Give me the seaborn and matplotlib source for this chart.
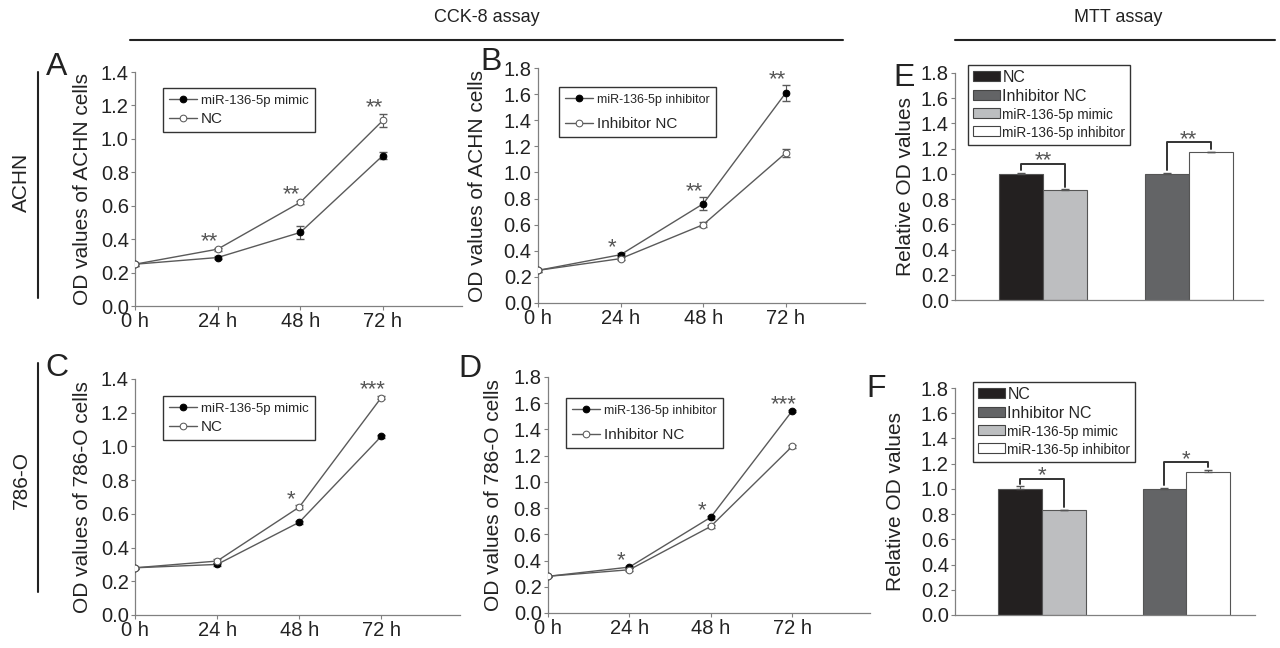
import numpy as np
import pandas as pd
import seaborn as sns
import matplotlib.pyplot as plt
from matplotlib.lines import Line2D
from matplotlib.patches import Patch

# time points of the CCK-8 curves
hours = [0, 24, 48, 72]
time_labels = ["0 h", "24 h", "48 h", "72 h"]

# A - ACHN, mimic vs NC
a_mimic = [0.25, 0.29, 0.44, 0.90]
a_mimic_err = [0.01, 0.01, 0.04, 0.02]
a_nc = [0.25, 0.34, 0.62, 1.11]
a_nc_err = [0.01, 0.01, 0.01, 0.04]
a_stars = ["", "**", "**", "**"]

# B - ACHN, inhibitor vs inhibitor NC
b_inh = [0.25, 0.37, 0.76, 1.61]
b_inh_err = [0.01, 0.01, 0.05, 0.06]
b_nc = [0.25, 0.34, 0.60, 1.15]
b_nc_err = [0.01, 0.01, 0.02, 0.03]
b_stars = ["", "*", "**", "**"]

# C - 786-O, mimic vs NC
c_mimic = [0.28, 0.30, 0.55, 1.06]
c_mimic_err = [0.005, 0.01, 0.01, 0.01]
c_nc = [0.28, 0.32, 0.64, 1.29]
c_nc_err = [0.005, 0.01, 0.01, 0.01]
c_stars = ["", "", "*", "***"]

# D - 786-O, inhibitor vs inhibitor NC
d_inh = [0.28, 0.35, 0.73, 1.54]
d_inh_err = [0.005, 0.01, 0.01, 0.01]
d_nc = [0.28, 0.33, 0.66, 1.27]
d_nc_err = [0.005, 0.01, 0.01, 0.01]
d_stars = ["", "*", "*", "***"]

# MTT assay, relative OD (bar order: NC, mimic, Inhibitor NC, inhibitor)
bar_conditions = ["NC", "miR-136-5p mimic", "Inhibitor NC", "miR-136-5p inhibitor"]
legend_order = ["NC", "Inhibitor NC", "miR-136-5p mimic", "miR-136-5p inhibitor"]
e_values = [1.00, 0.87, 1.00, 1.17]
e_err = [0.01, 0.01, 0.01, 0.005]
e_stars = ["**", "**"]
f_values = [1.00, 0.83, 1.00, 1.13]
f_err = [0.02, 0.005, 0.01, 0.02]
f_stars = ["*", "*"]

bar_colors = {"NC": "#231f20", "Inhibitor NC": "#636466",
              "miR-136-5p mimic": "#bcbec0", "miR-136-5p inhibitor": "#ffffff"}

sns.set_style("ticks")
plt.rcParams["font.family"] = ["Liberation Sans", "DejaVu Sans"]
plt.rcParams["axes.edgecolor"] = "#808080"
plt.rcParams["xtick.color"] = "#808080"
plt.rcParams["ytick.color"] = "#808080"
plt.rcParams["xtick.labelcolor"] = "#222222"
plt.rcParams["ytick.labelcolor"] = "#222222"

W, H = 1280, 648
fig = plt.figure(figsize=(12.8, 6.48), dpi=100)

LINE = "#5a5a5a"
TXT = "#222222"
STAR = "#555555"


def px_axes(left, top, right, bottom):
    return fig.add_axes([left / W, 1 - bottom / H, (right - left) / W, (bottom - top) / H])


def fig_xy(x, y):
    return (x / W, 1 - y / H)


def star(ax, x, y, text):
    # baseline slightly under y so the glyph sits just above it
    ax.annotate(text, xy=(x, y), xytext=(0, -2), textcoords="offset points",
                ha="center", va="baseline", fontsize=16, color=STAR)


def style_axes(ax, ymax, ylabel, pad):
    sns.despine(ax=ax)
    ticks = np.arange(0, ymax + 0.001, 0.2)
    ax.set_ylim(0, ymax)
    ax.set_yticks(ticks)
    ax.set_yticklabels([f"{v:.1f}" for v in ticks])
    ax.tick_params(axis="both", labelsize=14.5, length=3, width=0.8, pad=1.5)
    ax.set_ylabel(ylabel, fontsize=15, color=TXT, labelpad=pad)
    for s in ax.spines.values():
        s.set_linewidth(0.9)


def line_panel(ax, ymax, ylabel, s1, e1, l1, s2, e2, l2, stars, legend_box, sizes, spacing, pad):
    sns.lineplot(x=hours, y=s1, ax=ax, color=LINE, lw=1, marker="o", markersize=4.8,
                 markerfacecolor="black", markeredgecolor="black", label=l1, zorder=3)
    sns.lineplot(x=hours, y=s2, ax=ax, color=LINE, lw=1, marker="o", markersize=4.8,
                 markerfacecolor="white", markeredgecolor=LINE, label=l2, zorder=3)
    ax.errorbar(hours, s1, yerr=e1, fmt="none", ecolor=LINE, elinewidth=0.8, capsize=3, zorder=2)
    ax.errorbar(hours, s2, yerr=e2, fmt="none", ecolor=LINE, elinewidth=0.8, capsize=3, zorder=2)
    for h, a, ea, b, eb, st in zip(hours, s1, e1, s2, e2, stars):
        if st:
            star(ax, h - 2.5, max(a + ea, b + eb) + 0.02, st)
    ax.set_xlim(0, 95)
    ax.set_xticks(hours)
    ax.set_xticklabels(time_labels)
    ax.set_xlabel("")
    style_axes(ax, ymax, ylabel, pad)
    x0, y0 = fig_xy(*legend_box)
    leg = ax.legend(loc="upper left", bbox_to_anchor=(x0, y0), bbox_transform=fig.transFigure,
                    fontsize=10, frameon=True, fancybox=False, framealpha=1,
                    edgecolor="#333333", handlelength=2.0, handletextpad=0.3,
                    borderpad=0.45, labelspacing=spacing, borderaxespad=0)
    leg.get_frame().set_linewidth(1.0)
    for t, fs in zip(leg.get_texts(), sizes):
        t.set_fontsize(fs)


def bar_panel(ax, values, errs, stars, legend_box, xmax, pad):
    # bar slots: two adjacent pairs separated by a gap
    slots = [0, 1, 3.28, 4.27]
    df = pd.DataFrame({"slot": slots, "value": values, "cond": bar_conditions})
    sns.barplot(data=df, x="slot", y="value", hue="cond", hue_order=legend_order,
                palette=bar_colors, native_scale=True, dodge=False, width=1.0,
                errorbar=None, edgecolor="#555555", linewidth=0.8, legend=False, ax=ax)
    ax.errorbar(slots, values, yerr=[np.zeros(4), errs], fmt="none", ecolor="#555555",
                elinewidth=0.8, capsize=3, zorder=3)
    for i, st in enumerate(stars):
        l, r = 2 * i, 2 * i + 1
        top = max(values[l], values[r]) + 0.08
        ax.plot([slots[l], slots[l], slots[r], slots[r]],
                [values[l] + errs[l] + 0.02, top, top, values[r] + errs[r] + 0.02],
                color="#333333", lw=1.4)
        star(ax, (slots[l] + slots[r]) / 2, top, st)
    ax.set_xlim(-1.48, xmax)
    ax.set_xticks([])
    ax.set_xlabel("")
    style_axes(ax, 1.8, "Relative OD values", pad)
    handles = [Patch(facecolor=bar_colors[c], edgecolor="#444444", linewidth=0.8) for c in legend_order]
    x0, y0 = fig_xy(*legend_box)
    leg = ax.legend(handles, legend_order, loc="upper left", bbox_to_anchor=(x0, y0),
                    bbox_transform=fig.transFigure, fontsize=11.5, frameon=True, fancybox=False,
                    framealpha=1, edgecolor="#333333", handlelength=1.7, handleheight=0.55,
                    handletextpad=0.15, borderpad=0.3, labelspacing=0.25, borderaxespad=0)
    leg.get_frame().set_linewidth(1.0)
    for t in leg.get_texts()[2:]:
        t.set_fontsize(9.8)


axA = px_axes(135, 72, 462, 306)
line_panel(axA, 1.4, "OD values of ACHN cells", a_mimic, a_mimic_err, "miR-136-5p mimic",
           a_nc, a_nc_err, "NC", a_stars, (163, 88), (9.5, 11), 0.35, 6)
axB = px_axes(538, 68, 865, 303)
line_panel(axB, 1.8, "OD values of ACHN cells", b_inh, b_inh_err, "miR-136-5p inhibitor",
           b_nc, b_nc_err, "Inhibitor NC", b_stars, (559, 87), (9, 11), 0.8, 12)
axC = px_axes(135, 379, 460, 615)
line_panel(axC, 1.4, "OD values of 786-O cells", c_mimic, c_mimic_err, "miR-136-5p mimic",
           c_nc, c_nc_err, "NC", c_stars, (163, 396), (9.5, 11), 0.35, 6)
axD = px_axes(548, 377, 870, 613)
line_panel(axD, 1.8, "OD values of 786-O cells", d_inh, d_inh_err, "miR-136-5p inhibitor",
           d_nc, d_nc_err, "Inhibitor NC", d_stars, (566, 398), (9, 11), 0.8, 8)
axE = px_axes(955, 73, 1263, 300)
bar_panel(axE, e_values, e_err, e_stars, (968, 65), 5.45, 4)
axF = px_axes(955, 388, 1255, 615)
bar_panel(axF, f_values, f_err, f_stars, (973, 382), 5.34, 11)

# panel letters
for letter, (x, y) in zip("ABCDEF", [(57, 67), (491, 62), (57, 368), (470, 369), (904, 78), (876, 389)]):
    fx, fy = fig_xy(x, y)
    fig.text(fx, fy, letter, fontsize=23, ha="center", va="center", color=TXT)

# header titles and rules
for label, x, x0, x1 in [("CCK-8 assay", 487, 130, 843), ("MTT assay", 1118, 955, 1275)]:
    fx, fy = fig_xy(x, 18)
    fig.text(fx, fy, label, fontsize=13, ha="center", va="center", color=TXT)
    fig.add_artist(Line2D([x0 / W, x1 / W], [1 - 40 / H, 1 - 40 / H], color="#222222", lw=1.5))

# cell line labels with vertical rules
for label, yc, y0, y1 in [("ACHN", 182, 72, 298), ("786-O", 480, 363, 592)]:
    fx, fy = fig_xy(21, yc)
    fig.text(fx, fy, label, fontsize=15, rotation=90, ha="center", va="center", color=TXT)
    fig.add_artist(Line2D([38 / W, 38 / W], [1 - y0 / H, 1 - y1 / H], color="#222222", lw=1.5))

fig.savefig("out.png", dpi=100, facecolor="white")
